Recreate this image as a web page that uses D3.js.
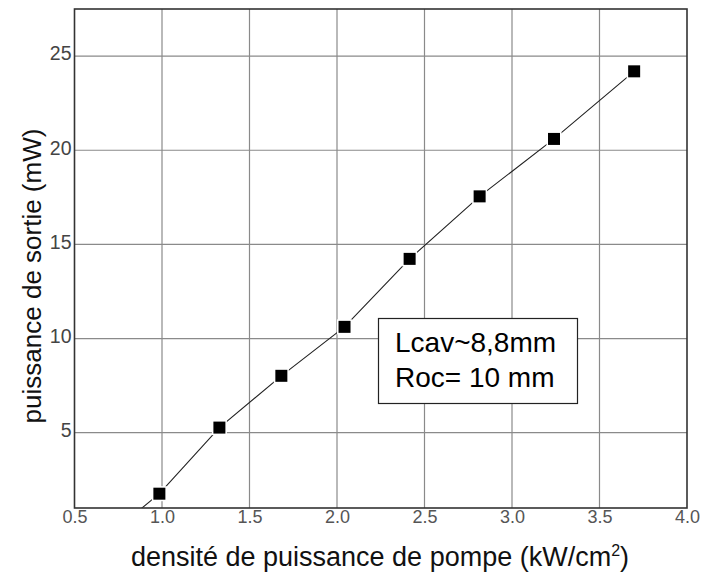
<!DOCTYPE html>
<html>
<head>
<meta charset="utf-8">
<script src="https://cdn.jsdelivr.net/npm/d3@7"></script>
<style>
  body { margin: 0; background: #fff; }
  svg { display: block; }
</style>
</head>
<body>
<svg id="chart" width="702" height="576"></svg>
<script>
// ---- data ----
const pumpDensity = [0.82, 0.985, 1.328, 1.682, 2.043, 2.415, 2.815, 3.24, 3.698];
const outputPower = [0.5, 1.76, 5.27, 8.02, 10.62, 14.23, 17.55, 20.6, 24.19];
const xTicks = [0.5, 1.0, 1.5, 2.0, 2.5, 3.0, 3.5, 4.0];
const yTicks = [5, 10, 15, 20, 25];
const xDomain = [0.5, 4.0];
const yDomain = [1.0, 27.5];
const annotation = ["Lcav~8,8mm", "Roc= 10 mm"];

const svg = d3.select("#chart");
const L = 74.5, T = 9, R = 687, B = 508;
const x = d3.scaleLinear().domain(xDomain).range([L, R]);
const y = d3.scaleLinear().domain(yDomain).range([B, T]);
const font = "'Liberation Sans', Arial, sans-serif";

svg.append("rect").attr("x", 0).attr("y", 0).attr("width", 702).attr("height", 576).attr("fill", "#fff");

// grid
svg.append("g").selectAll("line").data(xTicks.slice(1, -1)).join("line")
  .attr("x1", d => x(d)).attr("x2", d => x(d)).attr("y1", T).attr("y2", B)
  .attr("stroke", "#8a8a8a").attr("stroke-width", 1.2);
svg.append("g").selectAll("line").data(yTicks).join("line")
  .attr("x1", L).attr("x2", R).attr("y1", d => y(d)).attr("y2", d => y(d))
  .attr("stroke", "#8a8a8a").attr("stroke-width", 1.2);

// clip
svg.append("clipPath").attr("id", "clip").append("rect")
  .attr("x", L).attr("y", T).attr("width", R - L).attr("height", B - T);

const pts = pumpDensity.map((d, i) => ({ x: d, y: outputPower[i] }));
const plot = svg.append("g").attr("clip-path", "url(#clip)");
plot.append("path").datum(pts)
  .attr("d", d3.line().x(d => x(d.x)).y(d => y(d.y)))
  .attr("fill", "none").attr("stroke", "#222").attr("stroke-width", 1.1);
const s = 12;
plot.selectAll("rect.m").data(pts).join("rect").attr("class", "m")
  .attr("x", d => x(d.x) - s / 2).attr("y", d => y(d.y) - s / 2)
  .attr("width", s).attr("height", s)
  .attr("fill", "#000").attr("stroke", "#fff").attr("stroke-width", 3).attr("paint-order", "stroke");

// frame
svg.append("rect").attr("x", L).attr("y", T).attr("width", R - L).attr("height", B - T)
  .attr("fill", "none").attr("stroke", "#333").attr("stroke-width", 1.6);

// axes (labels only)
const xAxis = d3.axisBottom(x).tickValues(xTicks).tickFormat(d3.format(".1f")).tickSize(0).tickPadding(2);
const gx = svg.append("g").attr("transform", `translate(0,${B})`).call(xAxis);
gx.select(".domain").remove();
gx.selectAll("text").attr("font-family", font).attr("font-size", 18).attr("fill", "#555");

const yAxis = d3.axisLeft(y).tickValues(yTicks).tickFormat(d3.format("d")).tickSize(0).tickPadding(3);
const gy = svg.append("g").attr("transform", `translate(${L},0)`).call(yAxis);
gy.select(".domain").remove();
gy.selectAll("text").attr("font-family", font).attr("font-size", 19.5).attr("fill", "#444").attr("dy", "0.2em");

// axis titles
const xt = svg.append("text").attr("x", 380).attr("y", 566).attr("text-anchor", "middle")
  .attr("font-family", font).attr("font-size", 27).attr("fill", "#111");
xt.append("tspan").text("densité de puissance de pompe (kW/cm");
xt.append("tspan").attr("dy", -10).attr("font-size", 16).text("2");
xt.append("tspan").attr("dy", 10).text(")");

svg.append("text").attr("transform", "translate(41,276) rotate(-90)").attr("text-anchor", "middle")
  .attr("font-family", font).attr("font-size", 26).attr("fill", "#111")
  .text("puissance de sortie (mW)");

// annotation box
svg.append("rect").attr("x", 378.5).attr("y", 318.5).attr("width", 199).attr("height", 85)
  .attr("fill", "#fff").attr("stroke", "#222").attr("stroke-width", 1.2);
svg.append("g").selectAll("text").data(annotation).join("text")
  .attr("x", 395).attr("y", (d, i) => 352 + i * 35)
  .attr("font-family", font).attr("font-size", 28).attr("fill", "#000")
  .text(d => d);
</script>
</body>
</html>
